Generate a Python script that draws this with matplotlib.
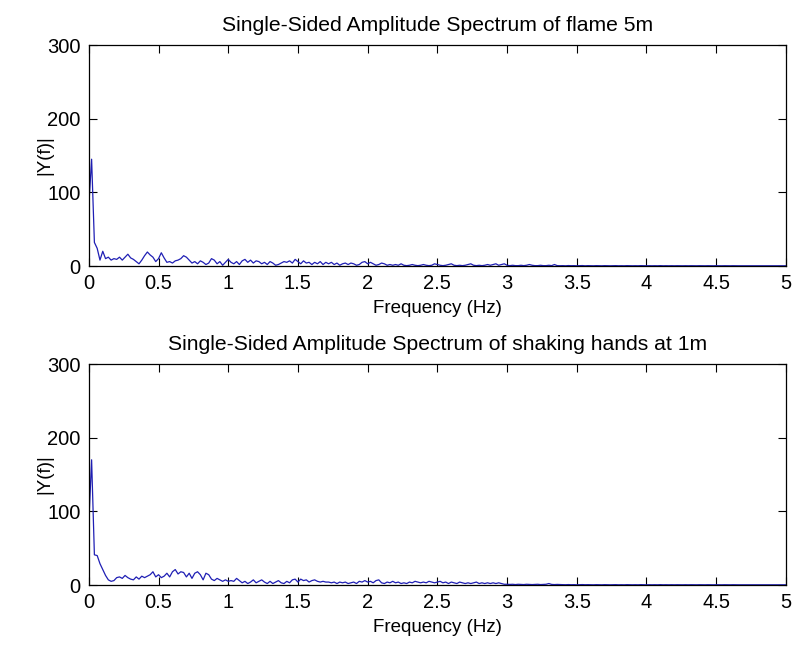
import numpy as np
import matplotlib
matplotlib.use("Agg")
import matplotlib.pyplot as plt

# |Y(f)|, one value every 0.02 Hz from 0 to 5 Hz
amp_flame = [
    82, 145, 32, 24, 8, 20, 10, 12, 8, 10,
    9, 12, 8, 12, 16, 11, 9, 6, 3, 8,
    14, 19, 15, 12, 6, 10, 18, 11, 5, 6,
    4, 7, 8, 10, 14, 12, 8, 4, 6, 3,
    7, 5, 2, 4, 10, 8, 3, 6, 1, 5,
    9, 5, 3, 6, 2, 7, 9, 5, 8, 4,
    7, 6, 3, 5, 2, 6, 4, 1, 2, 4,
    6, 5, 7, 4, 9, 6, 3, 7, 4, 5,
    2, 5, 3, 6, 2, 5, 3, 5, 2, 4,
    1, 3, 4, 2, 4, 3, 1, 2, 5, 6,
    3, 5, 3, 1, 2, 4, 3, 1, 2, 1,
    2, 1, 3, 1, 0.5, 1, 2, 1, 0.5, 1,
    2, 1, 0.5, 1, 3, 2, 1, 0.5, 1, 2,
    3, 1, 0.5, 1, 0.5, 1, 2, 3, 1, 0.5,
    1, 0.5, 1, 2, 1, 2, 3, 1, 2, 3,
    1, 0.5, 1, 0.5, 0.5, 1, 0.5, 1, 2, 1,
    0.5, 0.5, 1, 0.5, 0.5, 1, 0.5, 2, 0.5, 0.4,
    0.5, 0.3, 0.6, 0.4, 0.5, 0.3, 0.4, 0.6, 0.3, 0.5,
    0.4, 0.3, 0.5, 0.4, 0.3, 0.5, 0.4, 0.3, 0.4, 0.5,
    0.3, 0.4, 0.3, 0.5, 0.4, 0.3, 0.4, 0.3, 0.5, 0.4,
    0.3, 0.4, 0.3, 0.4, 0.3, 0.5, 0.3, 0.4, 0.3, 0.4,
    0.3, 0.4, 0.3, 0.3, 0.4, 0.3, 0.4, 0.3, 0.3, 0.4,
    0.3, 0.3, 0.4, 0.3, 0.3, 0.4, 0.3, 0.3, 0.4, 0.3,
    0.3, 0.4, 0.3, 0.3, 0.3, 0.4, 0.3, 0.3, 0.3, 0.4,
    0.3, 0.3, 0.3, 0.4, 0.3, 0.3, 0.3, 0.3, 0.4, 0.3,
    0.3,
]

amp_hands = [
    84, 170, 41, 40, 29, 21, 13, 7, 5, 6,
    10, 11, 9, 13, 10, 8, 7, 11, 8, 12,
    10, 12, 14, 18, 11, 14, 10, 12, 16, 11,
    18, 21, 15, 18, 17, 11, 16, 9, 16, 18,
    14, 7, 16, 14, 8, 6, 9, 7, 5, 7,
    5, 6, 5, 9, 6, 3, 5, 2, 4, 7,
    3, 5, 7, 4, 2, 5, 2, 4, 6, 3,
    2, 5, 3, 7, 8, 4, 8, 6, 7, 4,
    6, 7, 5, 4, 5, 4, 4, 3, 4, 2,
    4, 3, 4, 2, 3, 4, 2, 5, 4, 6,
    4, 5, 3, 6, 7, 3, 2, 4, 3, 5,
    3, 4, 2, 3, 2, 4, 3, 5, 4, 3,
    4, 3, 5, 4, 3, 4, 5, 3, 4, 2,
    4, 3, 2, 4, 3, 2, 3, 2, 3, 4,
    2, 3, 2, 3, 2, 3, 2, 3, 2, 1,
    1, 0.8, 1, 0.6, 1, 0.8, 0.6, 1, 0.8, 0.6,
    0.8, 1, 0.6, 0.8, 1, 2, 0.8, 0.6, 0.8, 0.6,
    0.5, 0.4, 0.6, 0.4, 0.5, 0.3, 0.5, 0.6, 0.4, 0.5,
    0.4, 0.3, 0.5, 0.4, 0.3, 0.5, 0.4, 0.3, 0.4, 0.5,
    0.3, 0.4, 0.3, 0.5, 0.4, 0.3, 0.4, 0.3, 0.5, 0.4,
    0.3, 0.4, 0.3, 0.4, 0.3, 0.5, 0.3, 0.4, 0.3, 0.4,
    0.3, 0.4, 0.3, 0.3, 0.4, 0.3, 0.4, 0.3, 0.3, 0.4,
    0.3, 0.3, 0.4, 0.3, 0.3, 0.4, 0.3, 0.3, 0.4, 0.3,
    0.3, 0.4, 0.3, 0.3, 0.3, 0.4, 0.3, 0.3, 0.3, 0.4,
    0.3, 0.3, 0.3, 0.4, 0.3, 0.3, 0.3, 0.3, 0.4, 0.3,
    0.3,
]

titles = ["Single-Sided Amplitude Spectrum of flame 5m",
          "Single-Sided Amplitude Spectrum of shaking hands at 1m"]
xticks = [0, 0.5, 1, 1.5, 2, 2.5, 3, 3.5, 4, 4.5, 5]
xticklabels = ["0", "0.5", "1", "1.5", "2", "2.5", "3", "3.5", "4", "4.5", "5"]
yticks = [0, 100, 200, 300]

plt.rcParams['font.family'] = ['Liberation Sans', 'DejaVu Sans']

fig = plt.figure(figsize=(7.93, 6.48), dpi=100)
fig.patch.set_facecolor('white')

positions = [[0.112, 0.5895, 0.879, 0.341],
             [0.112, 0.0972, 0.879, 0.341]]

for pos, amp, title in zip(positions, [amp_flame, amp_hands], titles):
    ax = fig.add_axes(pos)
    f = np.linspace(0, 5, len(amp))
    ax.plot(f, amp, color='#1f1fb4', linewidth=0.9)
    ax.set_xlim(0, 5)
    ax.set_ylim(0, 300)
    ax.set_xticks(xticks)
    ax.set_xticklabels(xticklabels)
    ax.set_yticks(yticks)
    ax.tick_params(direction='in', top=True, right=True, length=6,
                   width=0.8, labelsize=14.5, pad=6, colors='black')
    for s in ax.spines.values():
        s.set_linewidth(0.9)
    ax.set_title(title, fontsize=15.2, pad=10)
    ax.set_xlabel("Frequency (Hz)", fontsize=13.5, labelpad=5)
    ax.set_ylabel("|Y(f)|", fontsize=13.5, labelpad=-4.5)

fig.savefig("out.png", dpi=100, facecolor='white')
